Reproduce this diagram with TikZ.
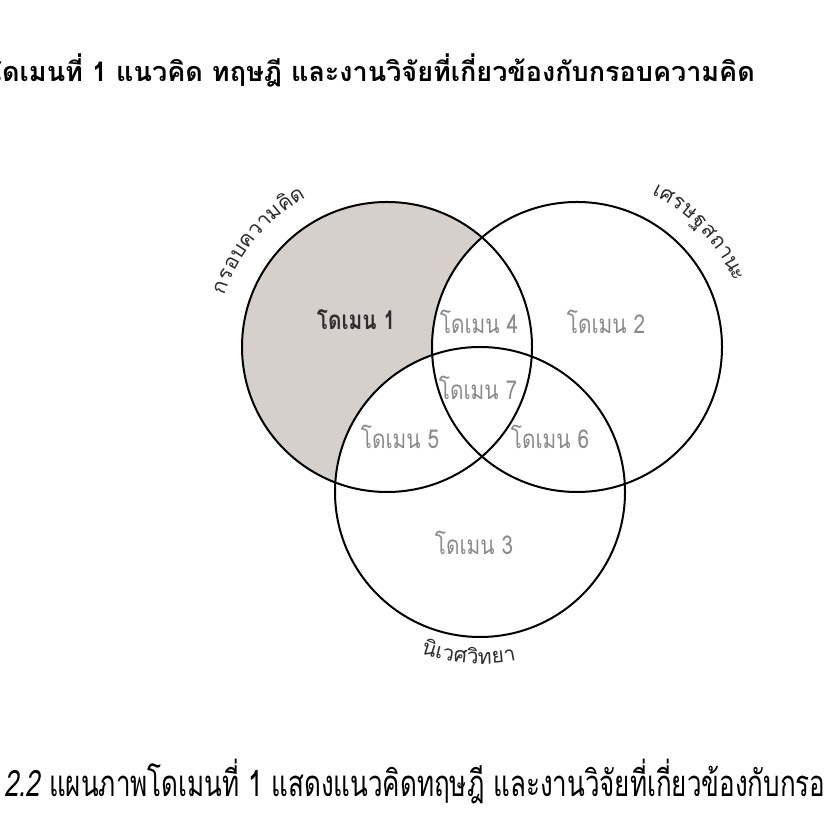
\documentclass[tikz,border=0pt]{standalone}
\usepackage{fontspec}
\setmainfont[Script=Thai]{Loma}
\newfontfamily\thaifont[Script=Thai]{Loma}
\usepackage{tikz}
\usetikzlibrary{
    positioning,
    calc
}
\definecolor{vennfill}{HTML}{D6D0CC}
\definecolor{venndark}{HTML}{2E2E2E}
\definecolor{venngray}{HTML}{8A8A8A}
\tikzset{
    % Circle outline
    vennline/.style={
        draw=black,
        line width=2pt
    },
    % Main (highlighted) domain label
    domainmain/.style={
        font=\thaifont\bfseries\fontsize{26}{30}\selectfont,
        text=venndark,
        xscale=0.8,
        inner sep=0pt
    },
    % Other domain labels
    domainlabel/.style={
        font=\thaifont\fontsize{26}{30}\selectfont,
        text=venngray,
        xscale=0.8,
        inner sep=0pt
    },
    % Letters set along a circle
    arcletter/.style={
        font=\thaifont\fontsize{21}{24}\selectfont,
        text=venndark,
        inner sep=0pt,
        anchor=base
    },
    % Heading and caption
    headtext/.style={
        font=\thaifont\bfseries\fontsize{27}{30}\selectfont,
        text=black,
        inner sep=0pt
    },
    captext/.style={
        font=\thaifont\fontsize{26}{30}\selectfont,
        text=black,
        yscale=1.4,
        inner sep=0pt
    }
}

\begin{document}
\begin{tikzpicture}[x=1pt, y=1pt]

    \useasboundingbox (0,0) rectangle (837,840);
    \clip (0,0) rectangle (837,840);

    % Circle centres
    \coordinate (c-frame) at (387,493);
    \coordinate (c-econ) at (577,493);
    \coordinate (c-eco) at (480,348);

    % Domain 1 shading
    \fill[vennfill] (c-frame) circle (145pt);
    \fill[white] (c-econ) circle (145pt);
    \fill[white] (c-eco) circle (145pt);

    % Outlines
    \draw[vennline] (c-frame) circle (145pt);
    \draw[vennline] (c-econ) circle (145pt);
    \draw[vennline] (c-eco) circle (145pt);

    % Domain labels
    \node[domainmain] (dom-1) at (356,520) {โดเมน 1};
    \node[domainlabel] (dom-4) at (479,518) {โดเมน 4};
    \node[domainlabel] (dom-2) at (606,518) {โดเมน 2};
    \node[domainlabel] (dom-7) at (478,452) {โดเมน 7};
    \node[domainlabel] (dom-5) at (400,403) {โดเมน 5};
    \node[domainlabel] (dom-6) at (550,403) {โดเมน 6};
    \node[domainlabel] (dom-3) at (474,297) {โดเมน 3};

    % Circle names along the rims
    \foreach \ch/\a [count=\i] in {ก/160.4, ร/156.0, อ/151.7, บ/147.1, ค/142.5,
                                  ว/138.2, า/134.2, ม/130.0, คิ/125.3, ด/120.7} {
        \node[arcletter, rotate=\a-90] (frame-\i) at ([shift={(\a:170)}]c-frame) {\ch};
    }
    \foreach \ch/\a [count=\i] in {เ/62.8, ศ/59.1, ร/54.8, ษ/50.4, ฐ/45.7,
                                  ส/41.1, ถ/36.6, า/32.4, น/28.3, ะ/24.3} {
        \node[arcletter, rotate=\a-90] (econ-\i) at ([shift={(\a:170)}]c-econ) {\ch};
    }
    \foreach \ch/\a [count=\i] in {นิ/252.2, เ/255.8, ว/259.0, ศ/263.2,
                                  วิ/267.5, ท/271.7, ย/276.2, า/280.3} {
        \node[arcletter, rotate=\a+90] (eco-\i) at ([shift={(\a:172)}]c-eco) {\ch};
    }

    % Heading and caption
    \node[headtext, anchor=east] (heading) at (755,770) {โดเมนที่ 1 แนวคิด ทฤษฎี และงานวิจัยที่เกี่ยวข้องกับกรอบความคิด};
    \node[captext, anchor=west] (caption) at (4,59) {{\addfontfeature{FakeSlant=0.2}2.2} แผนภาพโดเมนที่ 1 แสดงแนวคิดทฤษฎี และงานวิจัยที่เกี่ยวข้องกับกรอ};

\end{tikzpicture}
\end{document}
